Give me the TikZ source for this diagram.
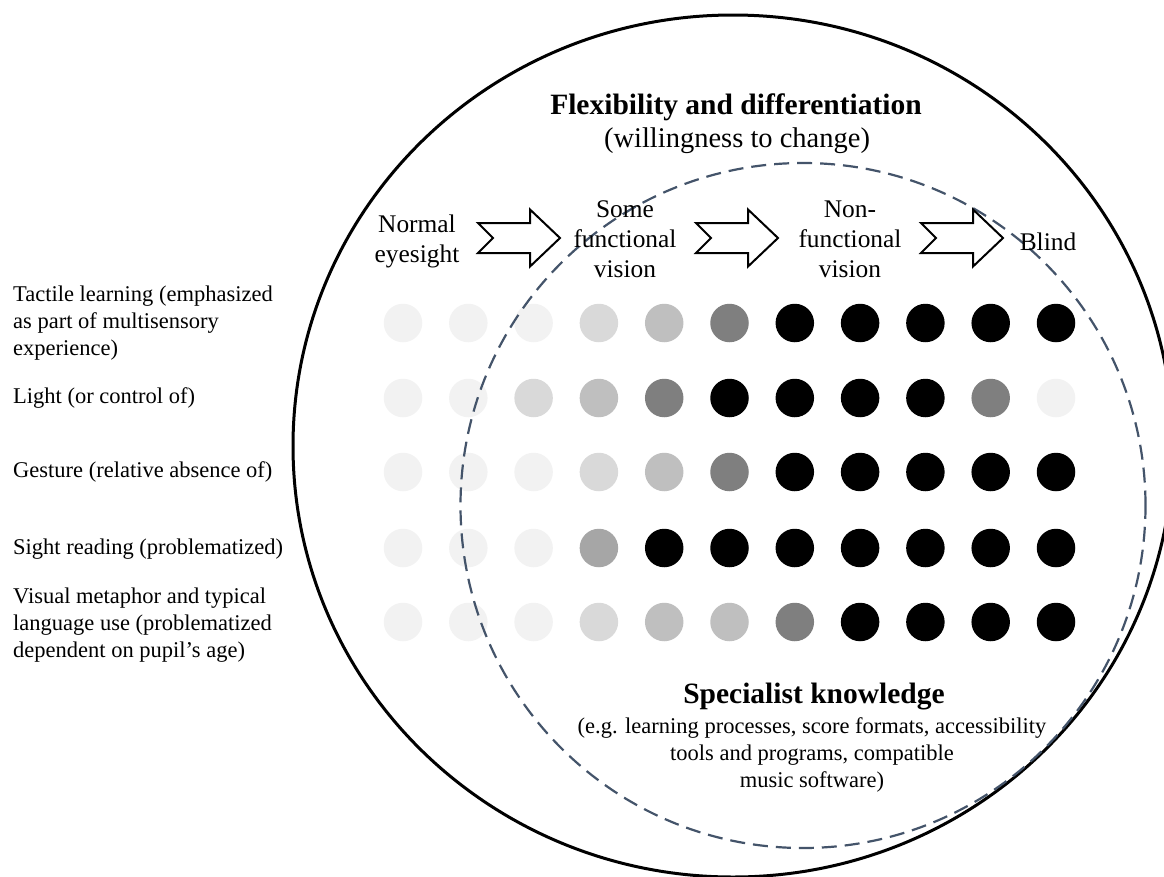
\documentclass[tikz,border=0pt]{standalone}
\usepackage{fontspec}
\setmainfont{Liberation Serif}
\definecolor{dotA}{HTML}{F2F2F2}
\definecolor{dotB}{HTML}{D9D9D9}
\definecolor{dotC}{HTML}{BFBFBF}
\definecolor{dotD}{HTML}{7F7F7F}
\definecolor{dotE}{HTML}{A6A6A6}
\definecolor{dotK}{HTML}{000000}
\definecolor{dashblue}{HTML}{44546A}
\tikzset{
  dot/.style={circle, inner sep=0pt, minimum size=38.5pt, draw=none},
  outerring/.style={line width=3pt, black},
  innerring/.style={line width=2.2pt, dashblue, dash pattern=on 15pt off 8pt},
  arrowline/.style={line width=2pt, black, fill=white, line join=miter},
  lbl/.style={font=\fontsize{22.5}{27}\selectfont, inner sep=0pt, text=black},
  steplbl/.style={font=\fontsize{25.4}{30}\selectfont, inner sep=0pt, align=center},
  titlelbl/.style={font=\fontsize{29.5}{34}\selectfont\bfseries, inner sep=0pt},
  sublbl/.style={font=\fontsize{28.5}{33}\selectfont, inner sep=0pt},
  chevarrow/.pic={\draw[arrowline] (0,-15) -- (52,-15) -- (52,-28.5) -- (82,0) -- (52,28.5) -- (52,15) -- (0,15) -- (15,0) -- cycle;}
}
\begin{document}
\begin{tikzpicture}[x=1pt, y=-1pt]
\useasboundingbox (0,0) rectangle (1164,876);
\clip (0,0) rectangle (1164,876);
\fill[white] (0,0) rectangle (1164,876);

% outer ring
\draw[outerring] (733,446) ellipse [x radius=440pt, y radius=431pt];

% dots
\foreach \row/\yy/\cols in {
  1/323/{A,A,A,B,C,D,K,K,K,K,K},
  2/398/{A,A,B,C,D,K,K,K,K,D,A},
  3/472/{A,A,A,B,C,D,K,K,K,K,K},
  4/548/{A,A,A,E,K,K,K,K,K,K,K},
  5/622/{A,A,A,B,C,C,D,K,K,K,K}} {
  \foreach \c [count=\i] in \cols {
    \node[dot, fill=dot\c] (d\row-\i) at ({403+65.3*(\i-1)}, \yy) {};
  }
}

% inner dashed ring
\draw[innerring] (803,505.5) circle [radius=342.5pt];

% step arrows
\pic at (478,238) {chevarrow};
\pic at (696,238) {chevarrow};
\pic at (921,238) {chevarrow};

% step labels
\node[steplbl] (normal) at (417,241) {Normal\\eyesight};
\node[steplbl] (some) at (625,239) {Some\\functional\\vision};
\node[steplbl] (nonf) at (850,239) {Non-\\functional\\vision};
\node[steplbl] (blind) at (1048,242) {Blind};

% titles
\node[titlelbl] (title) at (736,107) {Flexibility and differentiation};
\node[sublbl] (subtitle) at (737,141) {(willingness to change)};

\node[titlelbl] (spec) at (814,697) {Specialist knowledge};
\node[lbl, align=center] (spectext) at (812,755) {(e.g. learning processes, score formats, accessibility\\tools and programs, compatible\\music software)};

% row labels
\node[lbl, anchor=west, align=left] (tactile) at (13,323) {Tactile learning (emphasized\\as part of multisensory\\experience)};
\node[lbl, anchor=west, align=left] (light) at (13,398) {Light (or control of)};
\node[lbl, anchor=west, align=left] (gesture) at (13,472) {Gesture (relative absence of)};
\node[lbl, anchor=west, align=left] (sight) at (13,549) {Sight reading (problematized)};
\node[lbl, anchor=west, align=left] (visual) at (13,625) {Visual metaphor and typical\\language use (problematized\\dependent on pupil’s age)};
\end{tikzpicture}
\end{document}
